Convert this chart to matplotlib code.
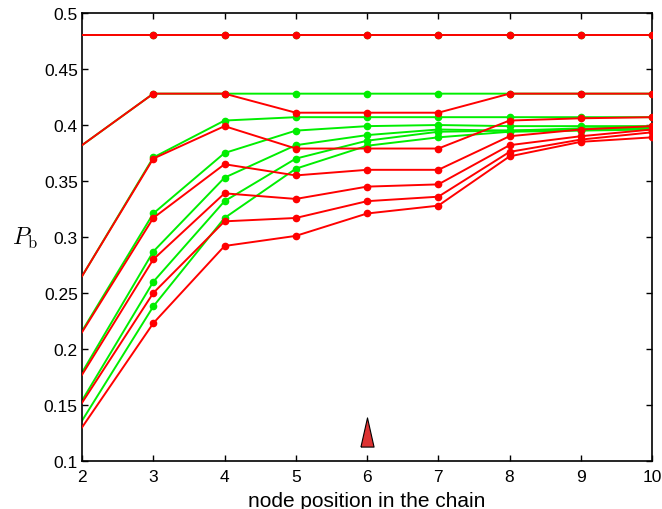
import numpy as np
import matplotlib
matplotlib.use('Agg')
import matplotlib.pyplot as plt

plt.rcParams['font.family'] = ['Liberation Sans', 'DejaVu Sans']
plt.rcParams['mathtext.fontset'] = 'cm'

# node positions
x = [2, 3, 4, 5, 6, 7, 8, 9, 10]

# green curves
green = [
    [0.480, 0.480, 0.480, 0.480, 0.480, 0.480, 0.480, 0.480, 0.480],
    [0.382, 0.428, 0.428, 0.428, 0.428, 0.428, 0.428, 0.428, 0.428],
    [0.265, 0.371, 0.404, 0.407, 0.407, 0.407, 0.407, 0.407, 0.407],
    [0.216, 0.321, 0.375, 0.395, 0.399, 0.400, 0.399, 0.399, 0.399],
    [0.179, 0.287, 0.353, 0.382, 0.391, 0.396, 0.395, 0.397, 0.398],
    [0.154, 0.260, 0.332, 0.370, 0.386, 0.394, 0.395, 0.396, 0.397],
    [0.136, 0.238, 0.317, 0.361, 0.3815, 0.389, 0.394, 0.395, 0.396],
]

# red curves
red = [
    [0.480, 0.480, 0.480, 0.480, 0.480, 0.480, 0.480, 0.480, 0.480],
    [0.382, 0.428, 0.428, 0.411, 0.411, 0.411, 0.428, 0.428, 0.428],
    [0.265, 0.370, 0.399, 0.379, 0.379, 0.379, 0.404, 0.406, 0.407],
    [0.215, 0.317, 0.365, 0.355, 0.360, 0.360, 0.390, 0.396, 0.399],
    [0.177, 0.280, 0.339, 0.334, 0.345, 0.347, 0.382, 0.390, 0.396],
    [0.152, 0.250, 0.314, 0.317, 0.332, 0.336, 0.376, 0.387, 0.3935],
    [0.130, 0.223, 0.292, 0.301, 0.321, 0.328, 0.372, 0.385, 0.389],
]

# triangle marker position
tri_x = 6
tri_y = 0.1256

fig = plt.figure(figsize=(6.62, 5.10), dpi=100)
ax = fig.add_axes([0.1239, 0.0941, 0.8611, 0.8784])

for g in green:
    ax.plot(x, g, color='#00ee00', lw=1.4, marker='o', ms=4.5,
            markevery=slice(1, None), zorder=2)
for r in red:
    ax.plot(x, r, color='#ff0000', lw=1.4, marker='o', ms=4.5,
            markevery=slice(1, None), zorder=3)

tri = [(-0.45, -1), (0.45, -1), (0, 1), (-0.45, -1)]
ax.plot([tri_x], [tri_y], marker=tri, ms=21, color='#dd3333',
        markeredgecolor='black', markeredgewidth=0.8, ls='none', zorder=4)

ax.set_xlim(2, 10)
ax.set_ylim(0.1, 0.5)
ax.set_xticks(x)
ax.set_yticks(np.arange(0.1, 0.501, 0.05))
ax.set_yticklabels(['0.1', '0.15', '0.2', '0.25', '0.3', '0.35', '0.4', '0.45', '0.5'])
ax.tick_params(direction='in', length=4, width=1, top=True, right=True,
               labelsize=12.5)
ax.tick_params(axis='x', pad=6)
ax.tick_params(axis='y', pad=3)
for s in ax.spines.values():
    s.set_linewidth(1.2)

ax.set_xlabel('node position in the chain', fontsize=15, labelpad=5)
ax.set_ylabel(r'$P_\mathrm{b}$', fontsize=17, rotation=0)
ax.yaxis.set_label_coords(-0.1, 0.47)

fig.savefig('out.png', dpi=100)
